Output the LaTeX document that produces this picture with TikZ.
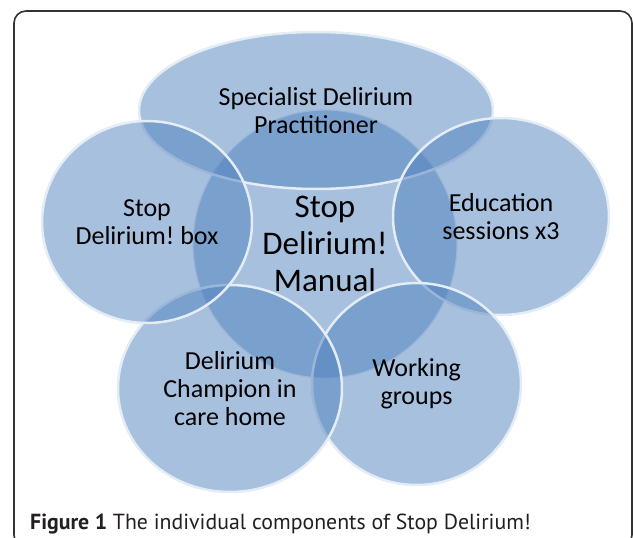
\documentclass[tikz,border=0pt]{standalone}
\usepackage{fontspec}
\setmainfont{Carlito}
\newfontfamily\capfont{PT Sans}
\usetikzlibrary{shapes.geometric}

\definecolor{partblue}{RGB}{79,129,189}
\definecolor{rimwhite}{RGB}{228,236,246}
\definecolor{framegray}{RGB}{51,51,51}
\definecolor{capgray}{RGB}{35,31,32}

\tikzset{
  part/.style={ellipse, fill=partblue, fill opacity=0.5, inner sep=0pt},
  rim/.style={draw=rimwhite, line width=2.5pt},
  hubrim/.style={draw=rimwhite, line width=1.2pt},
  parttext/.style={align=center, font=\fontsize{26}{28}\selectfont, text=black, inner sep=0pt},
  hubtext/.style={align=center, font=\fontsize{33}{37}\selectfont, text=black, inner sep=0pt},
}

\begin{document}
\frenchspacing
\begin{tikzpicture}[x=1pt,y=-1pt]
    \useasboundingbox (0,0) rectangle (633,538);
    \begin{scope}
        \clip (0,0) rectangle (633,538);
        \draw[framegray, line width=1.6pt, rounded corners=12pt] (14,11) rectangle (632,547);
    \end{scope}

    % hub first, then the parts clockwise from the top
    \node[part, minimum width=264pt, minimum height=268pt] (manual) at (325,244) {};
    \draw[hubrim] (manual.center) ellipse [x radius=132, y radius=134];
    \node[part, minimum width=354pt, minimum height=157pt] (specialist) at (316,110.5) {};
    \draw[rim] (specialist.center) ellipse [x radius=177, y radius=78.5];
    \node[part, minimum width=216pt, minimum height=197pt] (education) at (501,216.5) {};
    \draw[rim] (education.center) ellipse [x radius=108, y radius=98.5];
    \node[part, minimum width=209pt, minimum height=202pt] (working) at (416.5,384) {};
    \draw[rim] (working.center) ellipse [x radius=104.5, y radius=101];
    \node[part, minimum width=224pt, minimum height=207pt] (champion) at (230,388.5) {};
    \draw[rim] (champion.center) ellipse [x radius=112, y radius=103.5];
    \node[part, minimum width=210pt, minimum height=202pt] (box) at (147,222) {};
    \draw[rim] (box.center) ellipse [x radius=105, y radius=101];

    % labels on top
    \node[hubtext] (manualtext) at (manual) {Stop\\Delirium!\\Manual};
    \node[parttext] (specialisttext) at (specialist) {Specialist Delirium\\Practitioner};
    \node[parttext] (educationtext) at (education) {Education\\sessions x3};
    \node[parttext] (workingtext) at (working) {Working\\groups};
    \node[parttext] (championtext) at (champion) {Delirium\\Champion in\\care home};
    \node[parttext] (boxtext) at (box) {Stop\\Delirium! box};

    \node[anchor=base west, inner sep=0pt, text=capgray, font=\capfont\fontsize{21.8}{24}\selectfont] (caption) at (30,529)
        {\textbf{Figure 1} The individual components of Stop Delirium!};
\end{tikzpicture}
\end{document}
